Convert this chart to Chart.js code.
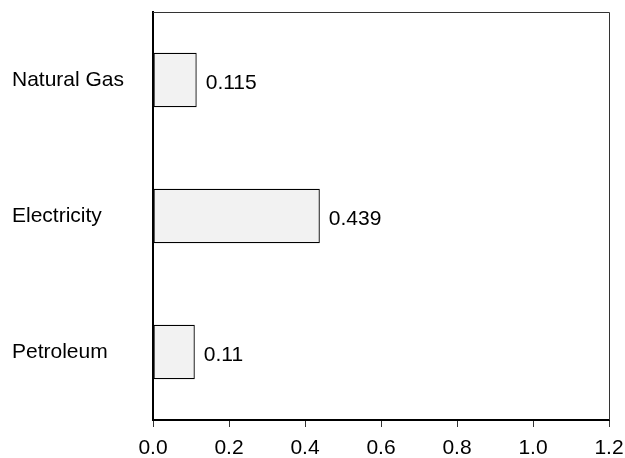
<!DOCTYPE html>
<html lang="en">
<head>
  <meta charset="UTF-8">
  <title>Energy Bars</title>
  <script src="https://cdn.jsdelivr.net/npm/chart.js"></script>
  <style>
    html, body { margin: 0; padding: 0; background: #fff; }
    #wrap { width: 625px; height: 458px; }
  </style>
</head>
<body>
  <div id="wrap"><canvas id="chart" width="625" height="458"></canvas></div>

  <script>
    const categories = ['Natural Gas', 'Electricity', 'Petroleum'];
    const values = [0.115, 0.439, 0.11];
    const valueLabels = ['0.115', '0.439', '0.11'];
    const xTicks = [0, 0.2, 0.4, 0.6, 0.8, 1.0, 1.2];

    const FONT = "'Liberation Sans', Arial, sans-serif";

    // frame on top and right, values next to bars
    const extras = {
      id: 'extras',
      afterDatasetsDraw(chart) {
        const { ctx, chartArea } = chart;
        ctx.save();
        ctx.strokeStyle = '#333';
        ctx.lineWidth = 1;
        ctx.beginPath();
        ctx.moveTo(chartArea.left, chartArea.top + 0.5);
        ctx.lineTo(chartArea.right + 0.5, chartArea.top + 0.5);
        ctx.lineTo(chartArea.right + 0.5, chartArea.bottom);
        ctx.stroke();

        ctx.fillStyle = '#000';
        ctx.font = '21px ' + FONT;
        ctx.textAlign = 'left';
        ctx.textBaseline = 'middle';
        chart.getDatasetMeta(0).data.forEach((bar, i) => {
          ctx.fillText(valueLabels[i], bar.x + 9, bar.y + 3);
        });
        ctx.restore();
      }
    };

    function noPad(scale) {
      scale.paddingLeft = 0;
      scale.paddingRight = 0;
      scale.paddingTop = 0;
      scale.paddingBottom = 0;
    }

    new Chart(document.getElementById('chart'), {
      type: 'bar',
      data: {
        labels: categories,
        datasets: [{
          data: values,
          backgroundColor: '#f2f2f2',
          borderColor: '#000',
          borderWidth: 1.3,
          borderSkipped: false,
          barPercentage: 1,
          categoryPercentage: 0.4
        }]
      },
      options: {
        indexAxis: 'y',
        responsive: false,
        animation: false,
        layout: { padding: { left: 12, top: 12, right: 16, bottom: 0 } },
        plugins: { legend: { display: false }, tooltip: { enabled: false } },
        scales: {
          x: {
            min: 0,
            max: 1.2,
            afterBuildTicks(scale) {
              scale.ticks = xTicks.map(v => ({ value: v }));
            },
            afterFit(scale) { scale.height = 38; noPad(scale); },
            grid: {
              display: true,
              drawOnChartArea: false,
              drawTicks: true,
              tickLength: 7,
              color: '#333'
            },
            border: { display: true, color: '#000', width: 2 },
            ticks: {
              color: '#000',
              padding: 9,
              font: { family: FONT, size: 21 },
              callback: v => Number(v).toFixed(1)
            }
          },
          y: {
            afterFit(scale) { scale.width = 141; noPad(scale); },
            grid: { display: false },
            border: { display: true, color: '#000', width: 2 },
            ticks: {
              color: '#000',
              crossAlign: 'far',
              font: { family: FONT, size: 21 }
            }
          }
        }
      },
      plugins: [extras]
    });
  </script>
</body>
</html>
